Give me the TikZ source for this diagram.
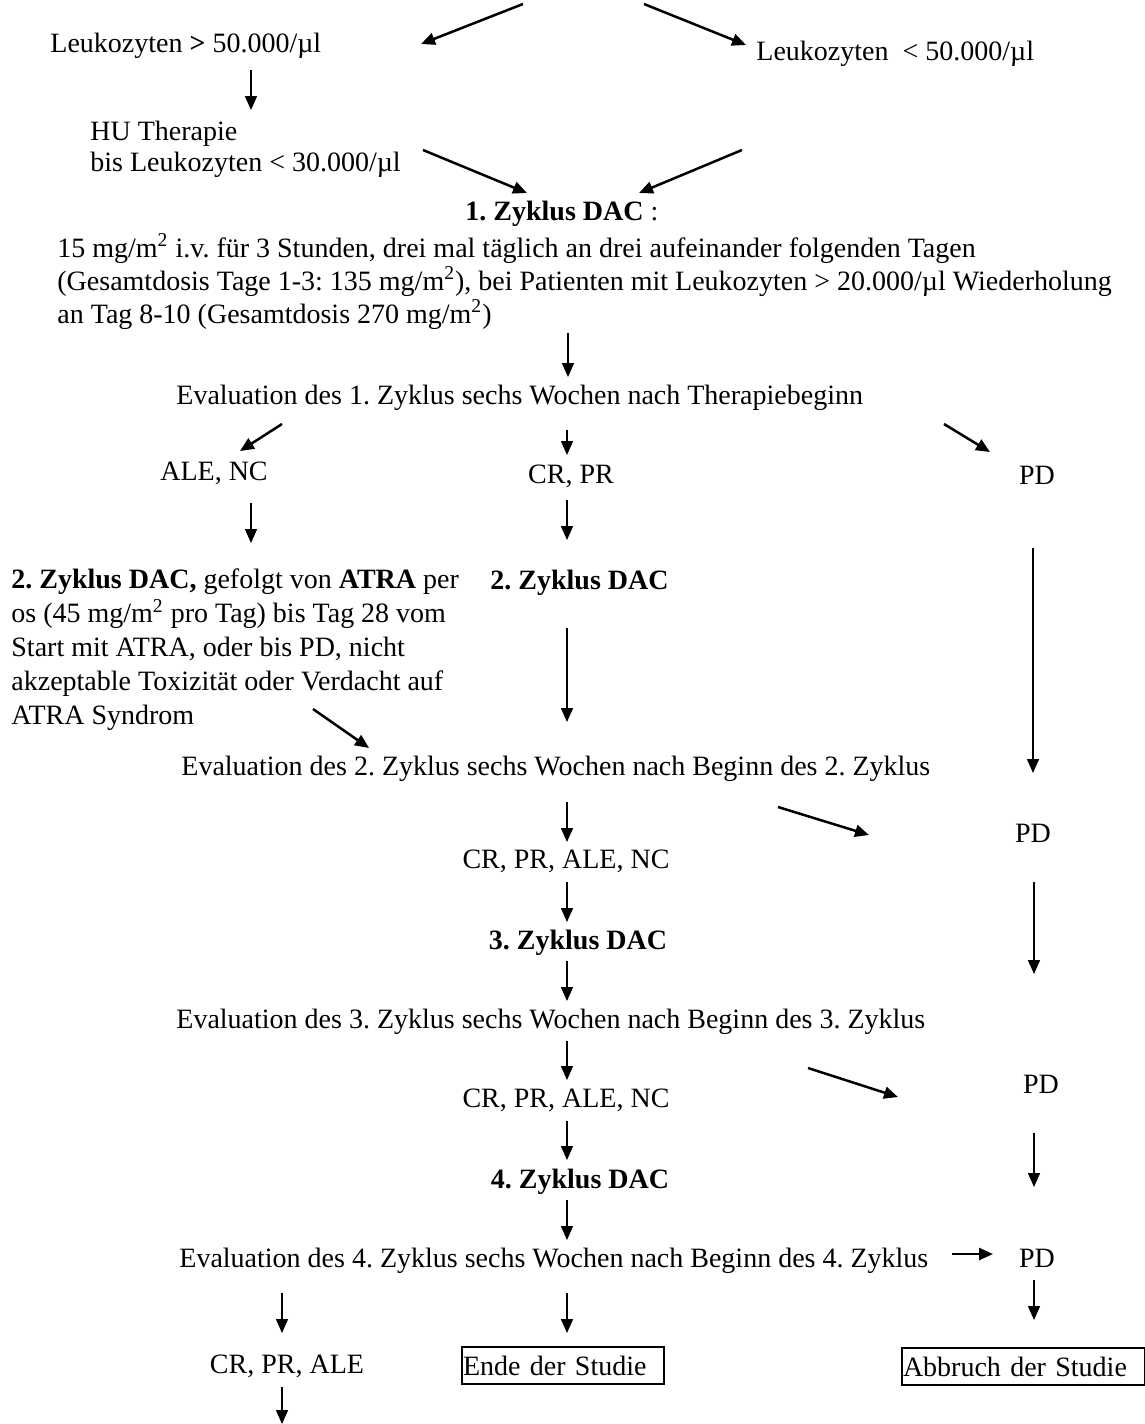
\documentclass[tikz,border=0pt]{standalone}
\usepackage{fontspec}
\setmainfont{Liberation Serif}
\usetikzlibrary{arrows.meta}
\frenchspacing

\tikzset{
  txt/.style={inner sep=0pt, anchor=base west},
  mid/.style={inner sep=0pt, anchor=base},
  blk/.style={inner sep=0pt, anchor=base west, align=left},
  endbox/.style={draw, line width=1pt, inner xsep=0.5pt, inner ysep=0pt,
    minimum height=18.5pt, align=left, anchor=north west},
  varr/.style={->, line width=0.75pt},
  darr/.style={->, line width=1.25pt},
}

\begin{document}
\begin{tikzpicture}[>={Triangle[length=7pt,width=6pt]}, x=0.5pt, y=-0.5pt,
    font=\fontsize{14}{17}\selectfont]
        \useasboundingbox (0,0) rectangle (1145,1424);

        % 文字 (坐标按原图像素, 多行取末行基线)
        \node[txt] (leuhi) at (50,52) {Leukozyten \textbf{>} 50.000/µl};
        \node[txt] (leulo) at (756,61) {Leukozyten\ \ < 50.000/µl};
        \node[blk, font=\fontsize{14}{15.5}\selectfont] (hu) at (90,171)
            {HU Therapie\\bis Leukozyten < 30.000/µl};
        \node[txt] (zy1) at (465,220) {\textbf{1. Zyklus DAC} :};
        \node[blk, font=\fontsize{14}{16.5}\selectfont] (dose) at (57,323)
            {15 mg/m\textsuperscript{2} i.v. für 3 Stunden, drei mal täglich an drei aufeinander folgenden Tagen\\
             (Gesamtdosis Tage 1-3: 135 mg/m\textsuperscript{2}), bei Patienten mit Leukozyten > 20.000/µl Wiederholung\\
             an Tag 8-10 (Gesamtdosis 270 mg/m\textsuperscript{2})};
        \node[txt] (ev1) at (176,404) {Evaluation des 1. Zyklus sechs Wochen nach Therapiebeginn};
        \node[mid] (alenc) at (214,480) {ALE, NC};
        \node[mid] (crpr) at (571,483) {CR, PR};
        \node[mid] (pd1) at (1037,484) {PD};
        \node[blk, font=\fontsize{14}{16.9}\selectfont] (atra) at (11,724)
            {\textbf{2. Zyklus DAC,} gefolgt von \textbf{ATRA} per\\
             os (45 mg/m\textsuperscript{2} pro Tag) bis Tag 28 vom\\
             Start mit ATRA, oder bis PD, nicht\\
             akzeptable Toxizität oder Verdacht auf\\
             ATRA Syndrom};
        \node[txt] (zy2) at (490,589) {\textbf{2. Zyklus DAC}};
        \node[txt] (ev2) at (181,775) {Evaluation des 2. Zyklus sechs Wochen nach Beginn des 2. Zyklus};
        \node[mid] (pd2) at (1033,842) {PD};
        \node[mid] (rest2) at (566,868) {CR, PR, ALE, NC};
        \node[mid] (zy3) at (578,949) {\textbf{3. Zyklus DAC}};
        \node[txt] (ev3) at (176,1028) {Evaluation des 3. Zyklus sechs Wochen nach Beginn des 3. Zyklus};
        \node[mid] (pd3) at (1041,1093) {PD};
        \node[mid] (rest3) at (566,1107) {CR, PR, ALE, NC};
        \node[mid] (zy4) at (580,1188) {\textbf{4. Zyklus DAC}};
        \node[txt] (ev4) at (179,1267) {Evaluation des 4. Zyklus sechs Wochen nach Beginn des 4. Zyklus};
        \node[mid] (pd4) at (1037,1267) {PD};
        \node[mid] (rest4) at (287,1373) {CR, PR, ALE};
        \node[endbox, text width=100pt] (ende) at (461,1346) {Ende der Studie};
        \node[endbox, text width=120.5pt] (abbruch) at (901,1347) {Abbruch der Studie};

        % 箭头端点
        \coordinate (t1a) at (523,4);    \coordinate (t1b) at (421,44);
        \coordinate (t2a) at (644,4);    \coordinate (t2b) at (746,45);
        \coordinate (d1a) at (251,70);   \coordinate (d1b) at (251,110);
        \coordinate (t3a) at (423,150);  \coordinate (t3b) at (527,193);
        \coordinate (t4a) at (742,150);  \coordinate (t4b) at (639,193);
        \coordinate (d2a) at (568,333);  \coordinate (d2b) at (568,377);
        \coordinate (e1a) at (282,424);  \coordinate (e1b) at (240,451);
        \coordinate (e2a) at (567,430);  \coordinate (e2b) at (567,455);
        \coordinate (e3a) at (944,424);  \coordinate (e3b) at (990,452);
        \coordinate (d3a) at (251,503);  \coordinate (d3b) at (251,543);
        \coordinate (d4a) at (567,500);  \coordinate (d4b) at (567,540);
        \coordinate (p1a) at (1033,548); \coordinate (p1b) at (1033,773);
        \coordinate (d5a) at (567,628);  \coordinate (d5b) at (567,722);
        \coordinate (t5a) at (313,709);  \coordinate (t5b) at (369,748);
        \coordinate (d6a) at (567,802);  \coordinate (d6b) at (567,842);
        \coordinate (t6a) at (778,807);  \coordinate (t6b) at (869,835);
        \coordinate (d7a) at (567,882);  \coordinate (d7b) at (567,922);
        \coordinate (p2a) at (1034,882); \coordinate (p2b) at (1034,974);
        \coordinate (d8a) at (567,961);  \coordinate (d8b) at (567,1001);
        \coordinate (d9a) at (567,1041); \coordinate (d9b) at (567,1080);
        \coordinate (t7a) at (808,1068); \coordinate (t7b) at (898,1097);
        \coordinate (d10a) at (567,1121); \coordinate (d10b) at (567,1160);
        \coordinate (p3a) at (1034,1133); \coordinate (p3b) at (1034,1187);
        \coordinate (d11a) at (567,1200); \coordinate (d11b) at (567,1240);
        \coordinate (h1a) at (952,1254); \coordinate (h1b) at (993,1254);
        \coordinate (d12a) at (282,1293); \coordinate (d12b) at (282,1333);
        \coordinate (d13a) at (567,1293); \coordinate (d13b) at (567,1333);
        \coordinate (p4a) at (1034,1280); \coordinate (p4b) at (1034,1320);
        \coordinate (d14a) at (282,1387); \coordinate (d14b) at (282,1424);

        % 斜箭头
        \foreach \a in {t1,t2,t3,t4,e1,e3,t5,t6,t7,h1}
            \draw[darr] (\a a) -- (\a b);
        % 竖箭头
        \foreach \a in {d1,d2,e2,d3,d4,p1,d5,d6,d7,p2,d8,d9,d10,p3,d11,d12,d13,p4,d14}
            \draw[varr] (\a a) -- (\a b);

    \end{tikzpicture}
\end{document}
